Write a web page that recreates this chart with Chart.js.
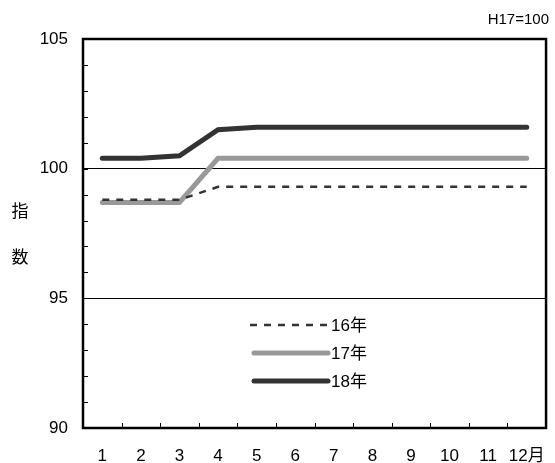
<!DOCTYPE html>
<html>
<head>
<meta charset="utf-8">
<script src="https://cdn.jsdelivr.net/npm/chart.js@4/dist/chart.umd.min.js"></script>
<style>
  html, body { margin: 0; padding: 0; background: #fff; }
  #wrap { width: 555px; height: 463px; position: relative; }
</style>
</head>
<body>
<div id="wrap"><canvas id="chart"></canvas></div>
<script>
const months = ["1", "2", "3", "4", "5", "6", "7", "8", "9", "10", "11", "12月"];
const seriesNames = ["16年", "17年", "18年"];
const values16 = [98.8, 98.8, 98.8, 99.3, 99.3, 99.3, 99.3, 99.3, 99.3, 99.3, 99.3, 99.3];
const values17 = [98.7, 98.7, 98.7, 100.4, 100.4, 100.4, 100.4, 100.4, 100.4, 100.4, 100.4, 100.4];
const values18 = [100.4, 100.4, 100.5, 101.5, 101.6, 101.6, 101.6, 101.6, 101.6, 101.6, 101.6, 101.6];

const sans = "'Liberation Sans', Arial, 'Noto Sans CJK JP', sans-serif";
const cjk = "'Noto Sans CJK JP', 'Liberation Sans', sans-serif";

// frame, inner ticks, legend and extra labels
const decorations = {
    id: "decorations",
    afterDraw(chart) {
        const ctx = chart.ctx;
        const a = chart.chartArea;
        const x = chart.scales.x, y = chart.scales.y;
        ctx.save();

        // small ticks on the left axis, pointing in
        ctx.strokeStyle = "#000";
        ctx.lineWidth = 1;
        for (let v = 91; v < 105; v++) {
            const py = Math.round(y.getPixelForValue(v)) + 0.5;
            ctx.beginPath();
            ctx.moveTo(a.left, py);
            ctx.lineTo(a.left + 5, py);
            ctx.stroke();
        }
        // ticks between months on the bottom axis
        for (let i = 1; i < months.length; i++) {
            const px = Math.round((x.getPixelForValue(i - 1) + x.getPixelForValue(i)) / 2) + 0.5;
            ctx.beginPath();
            ctx.moveTo(px, a.bottom);
            ctx.lineTo(px, a.bottom - 5);
            ctx.stroke();
        }

        // frame
        ctx.lineWidth = 2.5;
        ctx.strokeRect(a.left, a.top, a.right - a.left, a.bottom - a.top);

        // legend inside the plot
        const legendY = [325, 353, 381];
        chart.data.datasets.forEach((ds, i) => {
            ctx.beginPath();
            ctx.strokeStyle = ds.borderColor;
            ctx.lineWidth = ds.borderWidth;
            ctx.lineCap = ds.borderDash ? "butt" : "round";
            ctx.setLineDash(ds.borderDash || []);
            ctx.moveTo(ds.borderDash ? 250 : 254, legendY[i]);
            ctx.lineTo(328, legendY[i]);
            ctx.stroke();
            ctx.setLineDash([]);
            ctx.fillStyle = "#000";
            ctx.font = "17px " + sans;
            ctx.textBaseline = "middle";
            ctx.textAlign = "left";
            ctx.fillText(ds.label, 331, legendY[i] + 1);
        });

        // axis title and base note
        ctx.fillStyle = "#000";
        ctx.textBaseline = "middle";
        ctx.font = "17px " + cjk;
        ctx.textAlign = "center";
        ctx.fillText("指", 20, 211);
        ctx.fillText("数", 20, 257);
        ctx.font = "15px " + sans;
        ctx.textAlign = "right";
        ctx.fillText("H17=100", 549, 20);

        ctx.restore();
    }
};

new Chart(document.getElementById("chart"), {
    type: "line",
    data: {
        labels: months,
        datasets: [
            {
                label: seriesNames[0],
                data: values16,
                borderColor: "#333333",
                borderWidth: 2.5,
                borderDash: [7, 7],
                pointRadius: 0,
                tension: 0
            },
            {
                label: seriesNames[1],
                data: values17,
                borderColor: "#999999",
                borderWidth: 5,
                borderCapStyle: "round",
                pointRadius: 0,
                tension: 0
            },
            {
                label: seriesNames[2],
                data: values18,
                borderColor: "#333333",
                borderWidth: 5,
                borderCapStyle: "round",
                pointRadius: 0,
                tension: 0
            }
        ]
    },
    options: {
        responsive: true,
        maintainAspectRatio: false,
        animation: false,
        layout: { padding: { top: 39, right: 7, left: 0, bottom: 0 } },
        plugins: {
            legend: { display: false },
            tooltip: { enabled: false }
        },
        scales: {
            x: {
                offset: true,
                grid: { display: false },
                border: { display: false },
                ticks: {
                    color: "#000",
                    font: { family: sans, size: 17 },
                    padding: 10,
                    maxRotation: 0,
                    autoSkip: false
                },
                afterFit(scale) { scale.height = 35; }
            },
            y: {
                min: 90,
                max: 105,
                border: { display: false },
                grid: {
                    drawTicks: false,
                    color: ctx => (ctx.tick && (ctx.tick.value === 95 || ctx.tick.value === 100)) ? "#000" : "rgba(0,0,0,0)",
                    lineWidth: 1
                },
                ticks: {
                    stepSize: 1,
                    autoSkip: false,
                    color: "#000",
                    font: { family: sans, size: 17 },
                    padding: 15,
                    callback: v => v % 5 === 0 ? v : ""
                },
                afterFit(scale) { scale.width = 83; }
            }
        }
    },
    plugins: [decorations]
});
</script>
</body>
</html>
